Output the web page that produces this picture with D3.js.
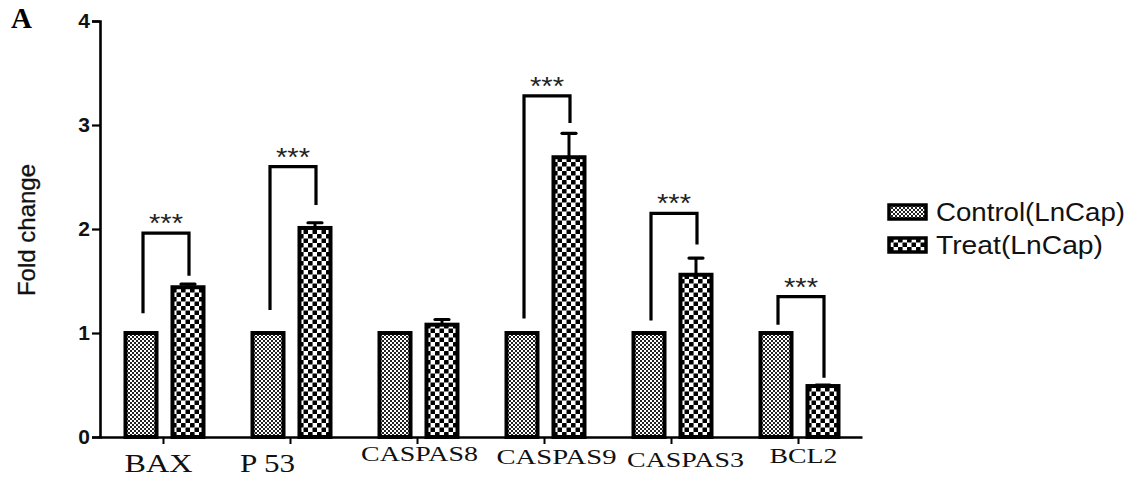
<!DOCTYPE html>
<html>
<head>
<meta charset="utf-8">
<script src="https://cdn.jsdelivr.net/npm/d3@7/dist/d3.min.js"></script>
<style>
  html, body { margin: 0; padding: 0; background: #fff; }
  svg { display: block; }
</style>
</head>
<body>
<svg id="chart" width="1133" height="477"></svg>
<script>
// Gene expression fold change, control vs treated LnCap cells
const categories = ["BAX", "P 53", "CASPAS8", "CASPAS9", "CASPAS3", "BCL2"];
const seriesNames = ["Control(LnCap)", "Treat(LnCap)"];
const controlValues = [1, 1, 1, 1, 1, 1];
const treatValues = [1.44, 2.01, 1.08, 2.69, 1.56, 0.49];
const treatErrors = [0.03, 0.05, 0.05, 0.23, 0.16, 0.01];
const yTicks = [0, 1, 2, 3, 4];

// Significance brackets: [top level, left leg end, right leg end] (null = none)
const bracketTop = [1.96, 2.60, null, 3.28, 2.15, 1.35];
const bracketLeftEnd = [1.19, 1.22, null, 1.14, 1.12, 1.08];
const bracketRightEnd = [1.55, 2.23, null, 3.02, 1.85, 0.57];
const significance = ["***", "***", "", "***", "***", "***"];

const svg = d3.select("#chart");

const x0 = d3.scaleBand().domain(categories).range([100, 862]).paddingInner(0).paddingOuter(0);
const x1 = d3.scaleBand().domain(seriesNames).range([25.5, 103.5]).paddingInner(0.34).paddingOuter(0);
const y = d3.scaleLinear().domain([0, 4]).range([437, 21]);

// Fill patterns
const defs = svg.append("defs");
const fine = defs.append("pattern").attr("id", "fineCheck")
  .attr("patternUnits", "userSpaceOnUse").attr("width", 4).attr("height", 4);
fine.append("rect").attr("width", 4).attr("height", 4).attr("fill", "#fff");
fine.append("rect").attr("width", 2).attr("height", 2).attr("fill", "#222");
fine.append("rect").attr("x", 2).attr("y", 2).attr("width", 2).attr("height", 2).attr("fill", "#222");

const coarse = defs.append("pattern").attr("id", "coarseCheck")
  .attr("patternUnits", "userSpaceOnUse").attr("width", 9).attr("height", 9);
coarse.append("rect").attr("width", 9).attr("height", 9).attr("fill", "#fff");
coarse.append("rect").attr("x", 0).attr("y", 0).attr("width", 4.6).attr("height", 4.6).attr("rx", 0.6).attr("fill", "#000");
coarse.append("rect").attr("x", 4.5).attr("y", 4.5).attr("width", 4.6).attr("height", 4.6).attr("rx", 0.6).attr("fill", "#000");

const fills = { "Control(LnCap)": "url(#fineCheck)", "Treat(LnCap)": "url(#coarseCheck)" };

// Panel letter
svg.append("text").attr("x", 11).attr("y", 28)
  .attr("font-family", "'Liberation Serif', 'Times New Roman', serif")
  .attr("font-weight", "bold").attr("font-size", 29).text("A");

// Y axis
const yAxis = svg.append("g").attr("transform", "translate(100,0)")
  .call(d3.axisLeft(y).tickValues(yTicks).tickFormat(d3.format("d")).tickSize(8).tickPadding(2));
yAxis.select(".domain").attr("stroke", "#000").attr("stroke-width", 2.6);
yAxis.selectAll(".tick line").attr("stroke", "#000").attr("stroke-width", 2.2);
yAxis.selectAll(".tick text")
  .attr("font-family", "'Liberation Sans', Arial, sans-serif")
  .attr("font-weight", "bold").attr("font-size", 21).attr("fill", "#111");

svg.append("text")
  .attr("transform", "translate(35,230) rotate(-90)")
  .attr("text-anchor", "middle")
  .attr("font-family", "'Liberation Sans', Arial, sans-serif")
  .attr("font-size", 24).attr("fill", "#111")
  .attr("stroke", "#111").attr("stroke-width", 0.3)
  .text("Fold change");

// X axis
const xAxis = svg.append("g").attr("transform", "translate(0,437)")
  .call(d3.axisBottom(x0).tickSize(7).tickSizeOuter(0).tickFormat(""));
xAxis.select(".domain").attr("stroke", "#000").attr("stroke-width", 2.6);
xAxis.selectAll(".tick line").attr("stroke", "#000").attr("stroke-width", 2);

// Category labels (serif, slightly staggered as typeset)
const labelStyle = {
  "BAX": { dx: -5, y: 472, size: 25, len: 68 },
  "P 53": { dx: -23, y: 472, size: 25, len: 55 },
  "CASPAS8": { dx: 2, y: 461, size: 21, len: 117 },
  "CASPAS9": { dx: 12, y: 464, size: 21, len: 120 },
  "CASPAS3": { dx: 14, y: 467, size: 21, len: 117 },
  "BCL2": { dx: 5, y: 463, size: 21, len: 68 }
};
svg.append("g").selectAll("text").data(categories).join("text")
  .attr("x", d => x0(d) + x0.bandwidth() / 2 + labelStyle[d].dx)
  .attr("y", d => labelStyle[d].y)
  .attr("text-anchor", "middle")
  .attr("font-family", "'Liberation Serif', 'Times New Roman', serif")
  .attr("font-size", d => labelStyle[d].size)
  .attr("textLength", d => labelStyle[d].len)
  .attr("lengthAdjust", "spacingAndGlyphs")
  .attr("fill", "#111")
  .text(d => d);

// Bars
const rows = categories.map((c, i) => ({
  cat: c,
  vals: [
    { series: seriesNames[0], v: controlValues[i] },
    { series: seriesNames[1], v: treatValues[i], err: treatErrors[i] }
  ]
}));

const groups = svg.append("g").selectAll("g").data(rows).join("g")
  .attr("transform", d => `translate(${x0(d.cat)},0)`);

// Error bars (treated only)
groups.each(function (d) {
  const g = d3.select(this);
  const t = d.vals[1];
  const cx = x1(t.series) + x1.bandwidth() / 2;
  g.append("line").attr("x1", cx).attr("x2", cx)
    .attr("y1", y(t.v)).attr("y2", y(t.v + t.err))
    .attr("stroke", "#000").attr("stroke-width", 3);
  g.append("line").attr("x1", cx - 7).attr("x2", cx + 7)
    .attr("y1", y(t.v + t.err)).attr("y2", y(t.v + t.err))
    .attr("stroke", "#000").attr("stroke-width", 3.2).attr("stroke-linecap", "round");
});

groups.selectAll("rect").data(d => d.vals).join("rect")
  .attr("x", d => x1(d.series))
  .attr("y", d => y(d.v))
  .attr("width", x1.bandwidth())
  .attr("height", d => y(0) - y(d.v))
  .attr("fill", d => fills[d.series])
  .attr("stroke", "#000")
  .attr("stroke-width", 4);

// Significance brackets
const cxControl = x1(seriesNames[0]) + x1.bandwidth() / 2;
const cxTreat = x1(seriesNames[1]) + x1.bandwidth() / 2;
categories.forEach((c, i) => {
  if (bracketTop[i] == null) return;
  const bx = x0(c);
  const lx = bx + cxControl + 2, rx = bx + cxTreat + 1;
  svg.append("path")
    .attr("d", `M${lx},${y(bracketLeftEnd[i])}V${y(bracketTop[i])}H${rx}V${y(bracketRightEnd[i])}`)
    .attr("fill", "none").attr("stroke", "#000").attr("stroke-width", 3.2);
  svg.append("text")
    .attr("x", (lx + rx) / 2).attr("y", y(bracketTop[i]) - 1)
    .attr("text-anchor", "middle")
    .attr("font-family", "'Liberation Sans', Arial, sans-serif")
    .attr("font-size", 26).attr("fill", "#222")
    .attr("textLength", 34).attr("lengthAdjust", "spacingAndGlyphs")
    .text(significance[i]);
});

// Legend
const legend = svg.append("g").selectAll("g").data(seriesNames).join("g")
  .attr("transform", (d, i) => `translate(889,${205 + i * 33})`);
legend.append("rect").attr("width", 37).attr("height", 14)
  .attr("fill", d => fills[d]).attr("stroke", "#000").attr("stroke-width", 3.5);
legend.append("text").attr("x", 47).attr("y", 16)
  .attr("font-family", "'Liberation Sans', Arial, sans-serif")
  .attr("font-size", 25).attr("fill", "#111")
  .attr("textLength", d => d.startsWith("Control") ? 189 : 167)
  .attr("lengthAdjust", "spacingAndGlyphs")
  .text(d => d);
</script>
</body>
</html>
